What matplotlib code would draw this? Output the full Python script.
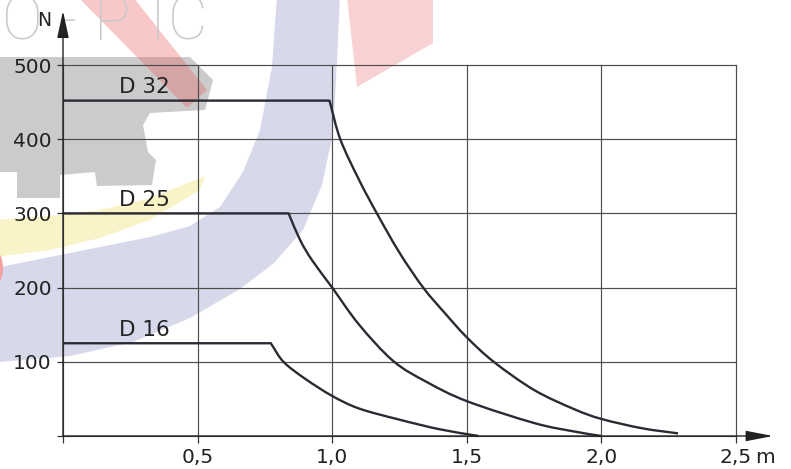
import matplotlib
matplotlib.use("Agg")
import matplotlib.pyplot as plt
from matplotlib.patches import Polygon, Ellipse, PathPatch
from matplotlib.path import Path

# ---- data: holding force N over distance m for three cylinder sizes ----
d32_x = [0.0, 0.99, 1.03, 1.10, 1.166, 1.25, 1.338, 1.42, 1.50, 1.60, 1.75, 1.90, 2.00, 2.15, 2.285]
d32_y = [452, 452, 400, 345, 300, 247, 200, 165, 133, 100, 62, 36, 23, 10.5, 3.5]

d25_x = [0.0, 0.838, 0.881, 0.925, 1.00, 1.10, 1.227, 1.35, 1.50, 1.75, 1.90, 2.00]
d25_y = [300, 300, 264, 237, 200, 150, 101, 73, 47, 17.5, 6, 0]

d16_x = [0.0, 0.772, 0.819, 0.90, 1.00, 1.10, 1.25, 1.40, 1.544]
d16_y = [125, 125, 100, 77, 54, 37, 22, 9, 0]

series_names = ["D 32", "D 25", "D 16"]
series_levels = [452, 300, 125]

x_ticks = [0.0, 0.5, 1.0, 1.5, 2.0, 2.5]
x_tick_labels = ["", "0,5", "1,0", "1,5", "2,0", "2,5"]
y_ticks = [0, 100, 200, 300, 400, 500]
y_tick_labels = ["", "100", "200", "300", "400", "500"]


def curve_path(xs, ys):
    """Flat plateau as a straight segment, then a smooth Catmull-Rom curve
    through the remaining points, expressed as cubic Bezier segments."""
    pts = list(zip(xs, ys))
    verts = [pts[0], pts[1]]
    codes = [Path.MOVETO, Path.LINETO]
    tail = pts[1:]
    n = len(tail)
    tang = []
    for i in range(n):
        if i == 0:
            a, b = tail[0], tail[1]
            tang.append((b[0] - a[0], b[1] - a[1]))
        elif i == n - 1:
            a, b = tail[-2], tail[-1]
            tang.append((b[0] - a[0], b[1] - a[1]))
        else:
            a, b = tail[i - 1], tail[i + 1]
            tang.append(((b[0] - a[0]) / 2, (b[1] - a[1]) / 2))
    for i in range(n - 1):
        p, q = tail[i], tail[i + 1]
        c1 = (p[0] + tang[i][0] / 3, p[1] + tang[i][1] / 3)
        c2 = (q[0] - tang[i + 1][0] / 3, q[1] - tang[i + 1][1] / 3)
        verts += [c1, c2, q]
        codes += [Path.CURVE4] * 3
    return Path(verts, codes)


W, H = 791, 469
fig = plt.figure(figsize=(W / 100, H / 100), dpi=100)
fig.patch.set_facecolor("white")

# ---- faint logo in the background (pixel coordinates) ----
bg = fig.add_axes([0, 0, 1, 1], zorder=0)
bg.set_xlim(0, W)
bg.set_ylim(H, 0)
bg.axis("off")

ring_outer = [(340, -5), (337, 60), (333, 133), (322, 185), (303, 230), (274, 263),
              (240, 289), (190, 318), (133, 342), (70, 356), (0, 362), (-5, 362)]
ring_inner = [(-5, 267), (0, 267), (50, 257), (100, 247), (150, 237), (190, 226),
              (220, 207), (243, 172), (260, 130), (272, 67), (277, -5)]
bg.add_patch(Polygon(ring_outer + ring_inner, closed=True, fc="#d7d8ea", ec="none"))

yellow_arc = [(-5, 220), (50, 216), (100, 210), (150, 198), (205, 176),
              (200, 190), (150, 220), (100, 238), (50, 250), (-5, 257)]
bg.add_patch(Polygon(yellow_arc, closed=True, fc="#f9f4c8", ec="none"))

gear = [(-5, 57), (190, 57), (213, 80), (205, 110), (185, 111), (150, 113),
        (143, 125), (148, 152), (156, 160), (152, 185), (97, 186), (95, 172),
        (60, 175), (60, 198), (17, 198), (17, 172), (-5, 172)]
bg.add_patch(Polygon(gear, closed=True, fc="#cbcbcb", ec="none"))

bg.add_patch(Polygon([(78, -3), (133, -3), (207, 90), (187, 108)], closed=True,
                     fc="#ec5a5a", ec="none", alpha=0.33))
bg.add_patch(Polygon([(347, -3), (357, 87), (433, 43), (433, -3)], closed=True,
                     fc="#f8d2d2", ec="none"))
bg.add_patch(Ellipse((-4, 268), 14, 32, fc="#f2a0a0", ec="none"))

for ch, xpos in [("O", 2), ("-", 58), ("P", 94), ("I", 150), ("C", 168)]:
    bg.text(xpos, 40, ch, fontsize=44, family=["Roboto", "DejaVu Sans"],
            weight="light", color="#cacaca", ha="left", va="baseline")

# ---- chart ----
ax_l, ax_r, ax_t, ax_b = 63, 736, 65, 436
ax = fig.add_axes([ax_l / W, (H - ax_b) / H, (ax_r - ax_l) / W, (ax_b - ax_t) / H], zorder=1)
ax.patch.set_alpha(0)
ax.set_xlim(0, 2.5)
ax.set_ylim(0, 500)
for s in ax.spines.values():
    s.set_visible(False)

ax.set_xticks(x_ticks)
ax.set_xticklabels(x_tick_labels)
ax.set_yticks(y_ticks)
ax.set_yticklabels(y_tick_labels)
ax.tick_params(axis="x", direction="out", length=5, width=0.9, color="#333333",
               labelsize=14.5, labelcolor="#222222", pad=3.6)
ax.tick_params(axis="y", direction="out", length=4.5, width=0.9, color="#333333",
               labelsize=14.5, labelcolor="#222222", pad=3.6)
for lab in ax.get_xticklabels() + ax.get_yticklabels():
    lab.set_family("DejaVu Sans")

ax.grid(True, color="#4d4d4d", linewidth=0.85, clip_on=False)
ax.set_axisbelow(True)

line_color = "#2a2a33"
for xs, ys in [(d32_x, d32_y), (d25_x, d25_y), (d16_x, d16_y)]:
    ax.add_patch(PathPatch(curve_path(xs, ys), fill=False, ec=line_color, lw=1.7,
                           joinstyle="round", capstyle="butt", zorder=3,
                           clip_on=False))

for name, level in zip(series_names, series_levels):
    ax.text(0.208, level + 10, name, fontsize=15.5, color="#222222",
            ha="left", va="baseline", zorder=4)

# axis arrows
ax.annotate("", xy=(0, (ax_b - 11) / (ax_b - ax_t)), xytext=(0, 0),
            xycoords="axes fraction",
            arrowprops=dict(arrowstyle="-|>,head_length=1.66,head_width=0.36",
                            mutation_scale=10, lw=1.0, color="#222222",
                            shrinkA=0, shrinkB=0), zorder=5)
ax.annotate("", xy=((773 - ax_l) / (ax_r - ax_l), 0), xytext=(0, 0),
            xycoords="axes fraction",
            arrowprops=dict(arrowstyle="-|>,head_length=1.66,head_width=0.32",
                            mutation_scale=10, lw=1.0, color="#222222",
                            shrinkA=0, shrinkB=0), zorder=5)

# axis unit labels
ax.text((44 - ax_l) / (ax_r - ax_l), (ax_b - 20) / (ax_b - ax_t), "N",
        transform=ax.transAxes, fontsize=13.5, color="#222222",
        ha="center", va="center", zorder=6)
ax.annotate("m", xy=(1, 0), xycoords="axes fraction", xytext=(13.5, -8.6),
            textcoords="offset points", fontsize=14.5, color="#222222",
            ha="left", va="top")

fig.savefig("out.png", dpi=100, facecolor="white")
